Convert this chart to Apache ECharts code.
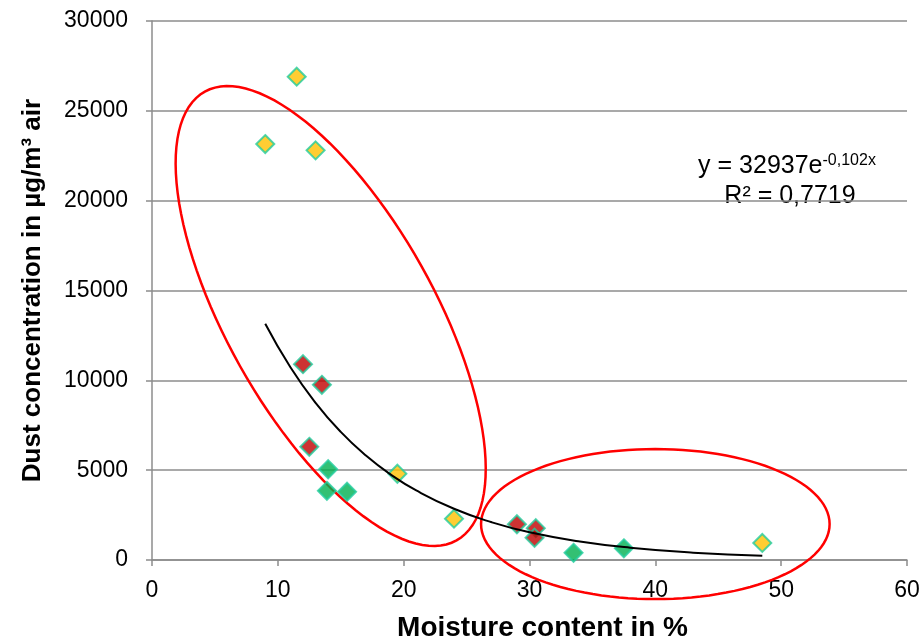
<!DOCTYPE html>
<html>
<head>
<meta charset="utf-8">
<script src="https://cdn.jsdelivr.net/npm/echarts@6/dist/echarts.min.js"></script>
<style>
html, body { margin: 0; padding: 0; background: #fff; }
#chart { width: 922px; height: 640px; }
</style>
</head>
<body>
<div id="chart"></div>
<script>
// points: [moisture %, dust µg/m³]
var orangePts = [[11.5, 26900], [9, 23150], [13, 22800], [19.5, 4800], [24, 2300], [48.5, 950]];
var redPts = [[12, 10900], [13.5, 9750], [12.5, 6300], [29, 1990], [30.5, 1770], [30.4, 1240]];
var greenPts = [[14, 5050], [13.9, 3850], [15.5, 3800], [33.5, 400], [37.5, 650]];

// trend line (y = 32937e^-0,102x) read at a few x
var trendX = [9, 11, 13, 15, 17, 19, 21, 24, 27, 30, 34, 38, 43, 48.5];
var trendY = [13150, 10730, 8750, 7130, 5815, 4740, 3870, 2850, 2100, 1545, 1030, 685, 410, 235];

// hand-drawn ellipses: centre, end of one axis, end of other axis (data units)
var ellipseLeft = [[14.2, 13580], [24.2, 1090], [21.4, 16375]];
var ellipseRight = [[40, 2000], [53.85, 2000], [40, 6175]];

var chart = echarts.init(document.getElementById('chart'));

var trendData = [];
for (var i = 0; i < trendX.length; i++) {
    trendData.push([trendX[i], trendY[i]]);
}

function ellipseItem(e) {
    return [e[0][0], e[0][1], e[1][0], e[1][1], e[2][0], e[2][1]];
}

var markerStyle = function (fill) {
    return {
        color: fill,
        borderColor: '#22cc9c',
        borderWidth: 2
    };
};

var axisGray = '#8c8c8c';

var option = {
    backgroundColor: '#fff',
    animation: false,
    textStyle: { fontFamily: 'Liberation Sans, Arial, sans-serif' },
    grid: {
        left: 152,
        right: 15,
        top: 21,
        bottom: 80,
        outerBoundsMode: 'none'
    },
    xAxis: {
        type: 'value',
        min: 0,
        max: 60,
        interval: 10,
        name: 'Moisture content in %',
        nameLocation: 'middle',
        nameGap: 54,
        nameTextStyle: { fontSize: 28, fontWeight: 'bold', color: '#000', padding: [0, 0, 0, 26] },
        axisLine: { lineStyle: { color: axisGray, width: 1.5 } },
        axisTick: { show: true, length: 6, lineStyle: { color: axisGray, width: 1.5 } },
        axisLabel: { fontSize: 23, color: '#000', margin: 19 },
        splitLine: { show: false }
    },
    yAxis: {
        type: 'value',
        min: 0,
        max: 30000,
        interval: 5000,
        name: 'Dust concentration in µg/m³ air',
        nameLocation: 'middle',
        nameGap: 106,
        nameTextStyle: { fontSize: 26, fontWeight: 'bold', color: '#000' },
        axisLine: { show: true, lineStyle: { color: axisGray, width: 1.5 } },
        axisTick: { show: true, length: 6, lineStyle: { color: axisGray, width: 1.5 } },
        axisLabel: {
            fontSize: 23, color: '#000', margin: 24,
            formatter: function (v) { return String(v); }
        },
        splitLine: { show: true, lineStyle: { color: axisGray, width: 1.5 } }
    },
    graphic: [
        {
            type: 'text',
            x: 787, y: 166,
            style: {
                text: '{a|y = 32937e}{s|-0,102x}',
                rich: {
                    a: { fontSize: 25, fontFamily: 'Liberation Sans', fill: '#000' },
                    s: { fontSize: 16, fontFamily: 'Liberation Sans', fill: '#000', padding: [0, 0, 11, 0] }
                },
                align: 'center',
                verticalAlign: 'middle'
            }
        },
        {
            type: 'text',
            x: 790, y: 196,
            style: {
                text: 'R² = 0,7719',
                fontSize: 25,
                fontFamily: 'Liberation Sans',
                fill: '#000',
                align: 'center',
                verticalAlign: 'middle'
            }
        }
    ],
    series: [
        {
            name: 'ellipses',
            type: 'custom',
            silent: true,
            clip: false,
            z: 3,
            data: [ellipseItem(ellipseLeft), ellipseItem(ellipseRight)],
            renderItem: function (params, api) {
                var cx = api.value(0), cy = api.value(1);
                var ax = api.value(2) - cx, ay = api.value(3) - cy;
                var bx = api.value(4) - cx, by = api.value(5) - cy;
                var pts = [];
                for (var k = 0; k < 120; k++) {
                    var t = k / 120 * Math.PI * 2;
                    pts.push(api.coord([
                        cx + Math.cos(t) * ax + Math.sin(t) * bx,
                        cy + Math.cos(t) * ay + Math.sin(t) * by
                    ]));
                }
                return {
                    type: 'polygon',
                    shape: { points: pts },
                    style: { fill: 'none', stroke: '#ff0000', lineWidth: 2.5 }
                };
            }
        },
        {
            name: 'orange',
            type: 'scatter',
            symbol: 'diamond',
            symbolSize: 18,
            z: 4,
            itemStyle: markerStyle('#ffc000'),
            data: orangePts
        },
        {
            name: 'red',
            type: 'scatter',
            symbol: 'diamond',
            symbolSize: 18,
            z: 4,
            itemStyle: markerStyle('#c00000'),
            data: redPts
        },
        {
            name: 'green',
            type: 'scatter',
            symbol: 'diamond',
            symbolSize: 18,
            z: 4,
            itemStyle: markerStyle('#00b050'),
            data: greenPts
        },
        {
            name: 'trend',
            type: 'line',
            smooth: true,
            showSymbol: false,
            symbol: 'none',
            z: 5,
            lineStyle: { color: '#000', width: 2 },
            data: trendData
        }
    ]
};

chart.setOption(option);
</script>
</body>
</html>
